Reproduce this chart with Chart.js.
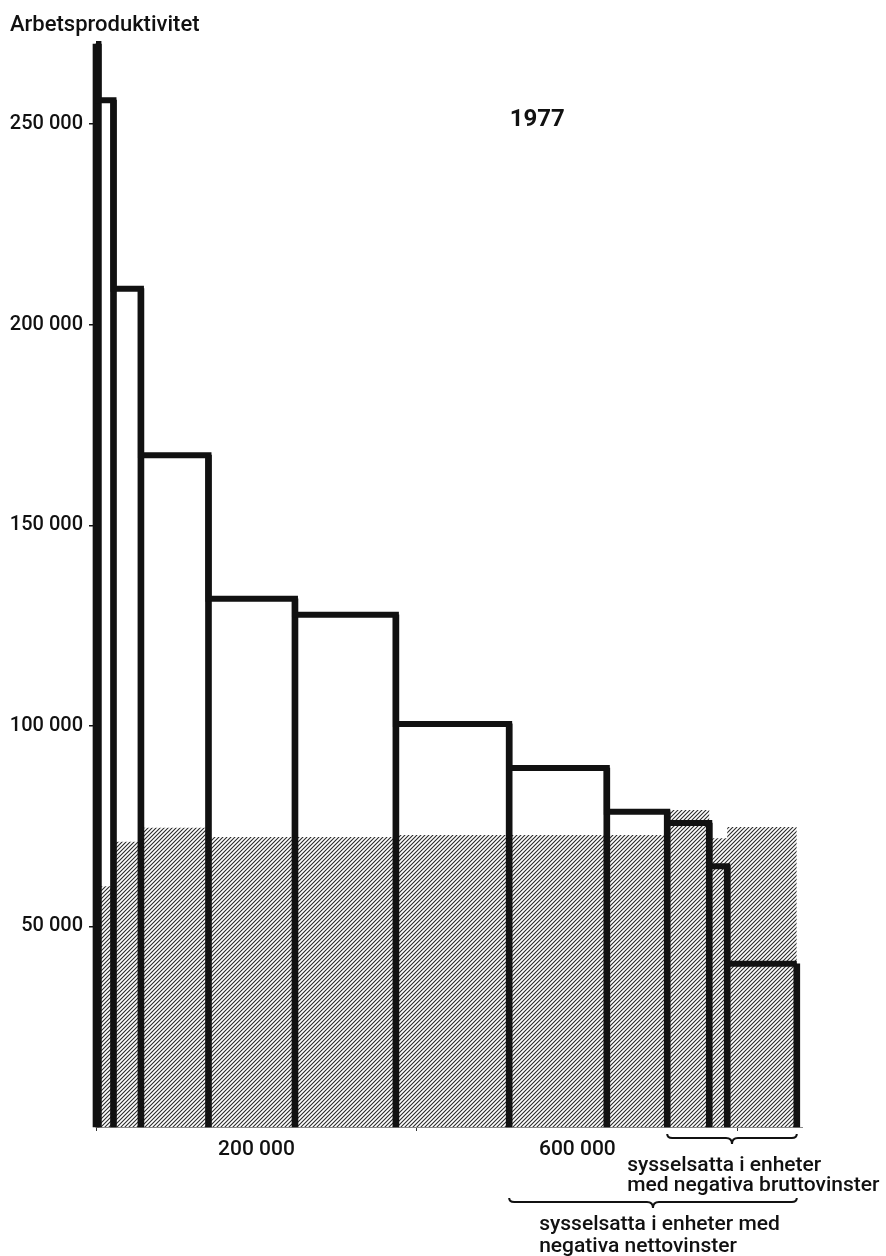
<!DOCTYPE html>
<html>
<head>
<meta charset="utf-8">
<title>Arbetsproduktivitet 1977</title>
<script src="https://cdn.jsdelivr.net/npm/chart.js@4.4.1/dist/chart.umd.min.js"></script>
<style>
  html, body { margin: 0; padding: 0; background: #fff; }
  canvas { display: block; }
</style>
</head>
<body>
<canvas id="chartSalter" width="886" height="1256"></canvas>
<script>
// Sysselsatta per grupp (x-bredd), arbetsproduktivitet (stapelhöjd) och lönekostnad (skrafferat)
const employed     = [3000, 18800, 34200, 84200, 107800, 125800, 141200, 121700, 75300, 52400, 22400, 86700];
const productivity = [270000, 256000, 209000, 167500, 131700, 127700, 100500, 89500, 78600, 75800, 65000, 40700];
const wageCost     = [62000, 60000, 71100, 74600, 72300, 72300, 72800, 72800, 72800, 79000, 72000, 74800];

const yTicks = [50000, 100000, 150000, 200000, 250000];
const xTicks = [200000, 600000];

const yTitle = 'Arbetsproduktivitet';
const yearLabel = '1977';
const grossLossText = ['sysselsatta i enheter', 'med negativa bruttovinster'];
const netLossText = ['sysselsatta i enheter med', 'negativa nettovinster'];
const firstGrossLoss = 9; // första gruppen med negativ bruttovinst
const firstNetLoss = 7;   // första gruppen med negativ nettovinst

const FONT = 'Roboto, "Liberation Sans", Arial, sans-serif';

// Kumulativa gränser på x-axeln
const edges = [0];
employed.forEach((e, i) => edges.push(edges[i] + e));

function fmt(v) {
  return String(v).replace(/\B(?=(\d{3})+(?!\d))/g, ' ');
}

// Stegkurvor: en punkt per gruppens vänsterkant + slutpunkt
function steps(values) {
  const pts = values.map((v, i) => ({ x: edges[i], y: v }));
  pts.push({ x: edges[edges.length - 1], y: values[values.length - 1] });
  return pts;
}

// Lodräta kanter: höjd = högsta av grannstaplarna
const verticals = edges.map((x, i) => ({
  x: x,
  y: Math.max(productivity[i - 1] || 0, productivity[i] || 0)
}));

const canvas = document.getElementById('chartSalter');
const ctx = canvas.getContext('2d');

// Skrafferingsmönster
function hatch() {
  const s = 4;
  const c = document.createElement('canvas');
  c.width = s; c.height = s;
  const g = c.getContext('2d');
  g.strokeStyle = '#2a2a2a';
  g.lineWidth = 1.1;
  g.beginPath();
  g.moveTo(-1, s + 1); g.lineTo(s + 1, -1);
  g.moveTo(-1, 1); g.lineTo(1, -1);
  g.moveTo(s - 1, s + 1); g.lineTo(s + 1, s - 1);
  g.stroke();
  return ctx.createPattern(c, 'repeat');
}

function brace(c, x0, x1, y) {
  const xm = (x0 + x1) / 2;
  c.beginPath();
  c.moveTo(x0, y - 4);
  c.quadraticCurveTo(x0, y, x0 + 5, y);
  c.lineTo(xm - 6, y);
  c.quadraticCurveTo(xm, y, xm, y + 6);
  c.quadraticCurveTo(xm, y, xm + 6, y);
  c.lineTo(x1 - 5, y);
  c.quadraticCurveTo(x1, y, x1, y - 4);
  c.stroke();
}

const annotations = {
  id: 'annotations',
  afterDraw(chart) {
    const c = chart.ctx;
    const { x, y } = chart.scales;
    const bottom = chart.chartArea.bottom;
    c.save();
    c.fillStyle = '#111';
    c.strokeStyle = '#111';
    c.lineWidth = 2;
    c.textBaseline = 'middle';
    c.textAlign = 'left';

    c.font = '500 22px ' + FONT;
    c.fillText(yTitle, 10, 25);

    c.font = 'bold 24px ' + FONT;
    c.textAlign = 'center';
    c.fillText(yearLabel, x.getPixelForValue(550000), y.getPixelForValue(251000));

    c.font = '500 21px ' + FONT;
    c.textAlign = 'left';
    const end = x.getPixelForValue(edges[edges.length - 1]);

    const g0 = x.getPixelForValue(edges[firstGrossLoss]);
    brace(c, g0, end, bottom + 11);
    c.fillText(grossLossText[0], g0 - 40, bottom + 39);
    c.fillText(grossLossText[1], g0 - 40, bottom + 59);

    const n0 = x.getPixelForValue(edges[firstNetLoss]);
    brace(c, n0, end, bottom + 75);
    c.fillText(netLossText[0], n0 + 30, bottom + 98);
    c.fillText(netLossText[1], n0 + 30, bottom + 120);
    c.restore();
  }
};

new Chart(ctx, {
  type: 'line',
  data: {
    datasets: [
      {
        label: 'Lönekostnad',
        data: steps(wageCost),
        stepped: 'before',
        fill: 'origin',
        backgroundColor: hatch(),
        borderWidth: 0,
        pointRadius: 0,
        order: 3
      },
      {
        type: 'bar',
        label: 'Kanter',
        data: verticals,
        backgroundColor: '#111',
        borderWidth: 0,
        barThickness: 6,
        clip: false,
        order: 2
      },
      {
        label: 'Arbetsproduktivitet',
        data: steps(productivity),
        stepped: 'before',
        fill: false,
        borderColor: '#111',
        borderWidth: 6,
        borderJoinStyle: 'miter',
        pointRadius: 0,
        clip: false,
        order: 1
      }
    ]
  },
  options: {
    responsive: false,
    animation: false,
    layout: { padding: { top: 44, right: 84, bottom: 0, left: 0 } },
    plugins: {
      legend: { display: false },
      tooltip: { enabled: false },
      title: { display: false }
    },
    scales: {
      x: {
        type: 'linear',
        min: 0,
        max: 880000,
        offset: false,
        afterFit: s => { s.height = 129; },
        afterBuildTicks: s => { s.ticks = xTicks.map(v => ({ value: v })); },
        grid: { drawOnChartArea: false, tickLength: 4, color: '#333' },
        border: { display: true, color: '#888', width: 1 },
        ticks: {
          padding: 6,
          color: '#111',
          font: { family: FONT, size: 21, weight: '500' },
          callback: v => fmt(v)
        }
      },
      y: {
        type: 'linear',
        min: 0,
        max: 270000,
        afterFit: s => { s.width = 96; },
        afterBuildTicks: s => { s.ticks = yTicks.map(v => ({ value: v })); },
        grid: { drawOnChartArea: false, tickLength: 7, color: '#111', lineWidth: 1.5 },
        border: { display: false },
        ticks: {
          padding: 6,
          color: '#111',
          font: { family: FONT, size: 20, weight: '500' },
          callback: v => fmt(v)
        }
      }
    }
  },
  plugins: [annotations]
});
</script>
</body>
</html>
